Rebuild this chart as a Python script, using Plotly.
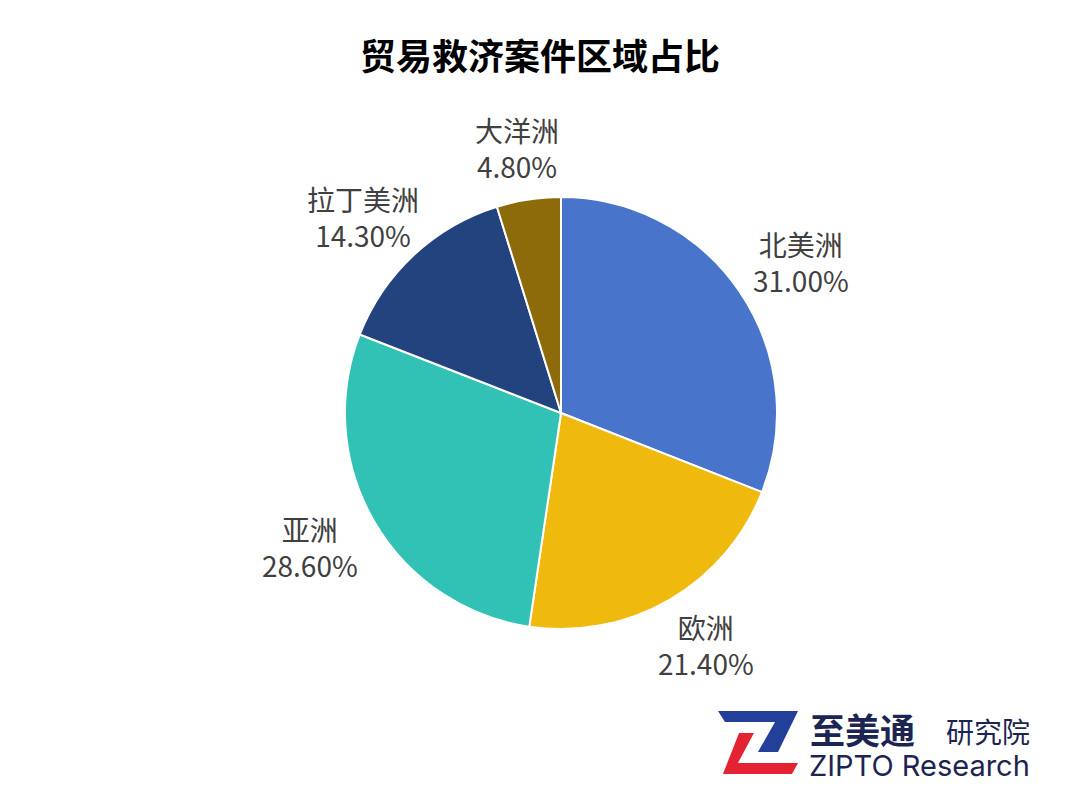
import math
import plotly.graph_objects as go

# ---- Data ----
regions = ["北美洲", "欧洲", "亚洲", "拉丁美洲", "大洋洲"]
shares = [31.0, 21.4, 28.6, 14.3, 4.8]
colors = ["#4874CB", "#F0B90E", "#31C2B5", "#23437F", "#8E6B0A"]

W, H = 1080, 810
OFF = 8  # page body margin of the browser
FONT = "Noto Sans CJK SC"
NAVY = "#1C2551"


def px(x, y):
    # pixel in the screenshot -> paper coords
    return (x - OFF) / W, 1 - (y - OFF) / H


def path(points):
    pts = [px(x, y) for x, y in points]
    return "M " + " L ".join(f"{a:.4f},{b:.4f}" for a, b in pts) + " Z"


# ---- Pie ----
cx, cy, r = 561, 413, 216
x0, y0 = px(cx - r, cy + r)
x1, y1 = px(cx + r, cy - r)

fig = go.Figure(go.Pie(
    labels=regions,
    values=shares,
    sort=False,
    direction="clockwise",
    rotation=0,
    marker=dict(colors=colors, line=dict(color="white", width=2)),
    textinfo="none",
    domain=dict(x=[x0, x1], y=[y0, y1]),
    showlegend=False,
))

annotations = []

# data labels outside the slices, at the middle angle of each slice (no leader lines)
# label boxes are wider than tall, so they sit on an ellipse around the pie
lab_rx, lab_ry = 290, 268
total = sum(shares)
cum = 0
for name, v in zip(regions, shares):
    mid = (cum + v / 2) / total * 2 * math.pi
    cum += v
    lx, ly = px(cx + lab_rx * math.sin(mid), cy - lab_ry * math.cos(mid))
    annotations.append(dict(x=lx, y=ly, xref="paper", yref="paper", showarrow=False,
                            text=f"{name}<br>{v:.2f}%", align="center",
                            xanchor="center", yanchor="middle",
                            font=dict(family=FONT, size=28, color="#404040")))

# ---- Logo (Z mark) ----
blue_z = [(718, 711), (798, 711), (778, 752), (758, 752), (775, 722), (725, 722)]
red_z = [(739, 733), (754, 733), (738, 763), (798, 763), (792, 774), (723, 774)]
shapes = [
    dict(type="path", xref="paper", yref="paper", path=path(blue_z),
         fillcolor="#22409A", line=dict(width=0)),
    dict(type="path", xref="paper", yref="paper", path=path(red_z),
         fillcolor="#E42332", line=dict(width=0)),
]

tx, ty = px(540, 54)
annotations.append(dict(x=tx, y=ty, xref="paper", yref="paper", showarrow=False,
                        text="<b>贸易救济案件区域占比</b>", xanchor="center", yanchor="middle",
                        font=dict(family=FONT, size=36, color="#000000")))
ax, ay = px(808, 728)
annotations.append(dict(x=ax, y=ay, xref="paper", yref="paper", showarrow=False,
                        text="<b>至美通</b>", xanchor="left", yanchor="middle",
                        font=dict(family=FONT, size=35, color=NAVY)))
ax, ay = px(944, 731)
annotations.append(dict(x=ax, y=ay, xref="paper", yref="paper", showarrow=False,
                        text="研究院", xanchor="left", yanchor="middle",
                        font=dict(family=FONT, size=28, color=NAVY)))
ax, ay = px(807, 765)
annotations.append(dict(x=ax, y=ay, xref="paper", yref="paper", showarrow=False,
                        text="ZIPTO Research", xanchor="left", yanchor="middle",
                        font=dict(family="Inter", size=29, color=NAVY)))

fig.update_layout(
    width=W, height=H,
    margin=dict(l=0, r=0, t=0, b=0),
    paper_bgcolor="white",
    plot_bgcolor="white",
    shapes=shapes,
    annotations=annotations,
)

fig.write_html("out.html")
